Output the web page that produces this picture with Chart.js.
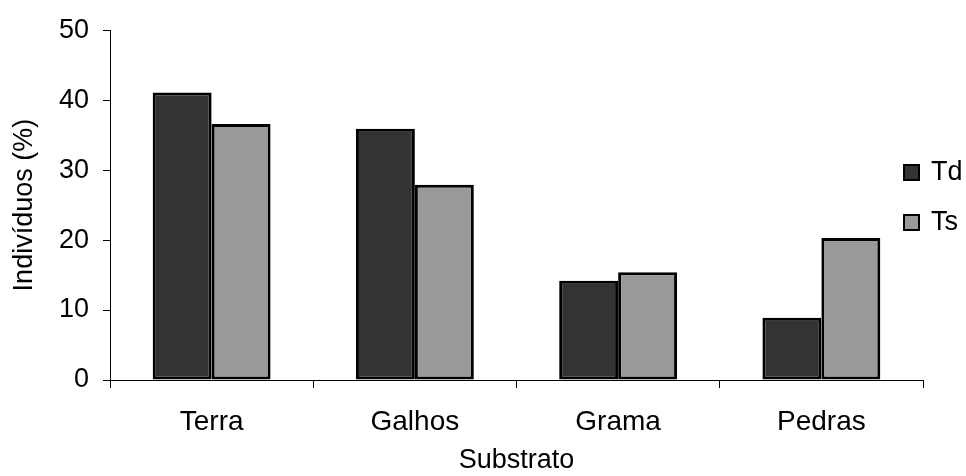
<!DOCTYPE html>
<html>
<head>
<meta charset="utf-8">
<script src="https://cdn.jsdelivr.net/npm/chart.js@4.4.1/dist/chart.umd.min.js"></script>
<style>
  html, body { margin: 0; padding: 0; background: #fff; }
  #wrap { width: 966px; height: 476px; }
</style>
</head>
<body>
<div id="wrap"><canvas id="substratoChart" width="966" height="476"></canvas></div>
<script>
const categories = ["Terra", "Galhos", "Grama", "Pedras"];
const tdValues = [41.1, 35.9, 14.2, 8.9];
const tsValues = [36.6, 27.9, 15.4, 20.3];
const yTicks = [0, 10, 20, 30, 40, 50];

const FONT = "'Liberation Sans', Arial, sans-serif";

// legend drawn by hand so it can sit where the original one sits
const sideLegend = {
  id: 'sideLegend',
  afterDraw(chart) {
    const ctx = chart.ctx;
    const rows = [172, 222];
    ctx.save();
    chart.data.datasets.forEach((ds, i) => {
      const y = rows[i];
      ctx.fillStyle = ds.backgroundColor;
      ctx.fillRect(904, y - 7, 15, 15);
      ctx.lineWidth = 2;
      ctx.strokeStyle = '#000';
      ctx.strokeRect(904, y - 7, 15, 15);
      ctx.fillStyle = '#000';
      ctx.font = "27px " + FONT;
      ctx.textBaseline = 'middle';
      ctx.textAlign = 'left';
      ctx.fillText(ds.label, 931, y + 1);
    });
    ctx.restore();
  }
};

new Chart(document.getElementById('substratoChart').getContext('2d'), {
  type: 'bar',
  data: {
    labels: categories,
    datasets: [
      { label: 'Td', data: tdValues, backgroundColor: '#333333', borderColor: '#000', borderWidth: 3, borderSkipped: false },
      { label: 'Ts', data: tsValues, backgroundColor: '#999999', borderColor: '#000', borderWidth: 3, borderSkipped: false }
    ]
  },
  options: {
    responsive: false,
    animation: false,
    devicePixelRatio: 1,
    categoryPercentage: 0.58,
    barPercentage: 1,
    layout: { padding: { top: 29, right: 43, left: 0, bottom: 0 } },
    plugins: {
      legend: { display: false },
      tooltip: { enabled: false }
    },
    scales: {
      x: {
        grid: { display: true, drawOnChartArea: false, offset: true, tickLength: 8, color: '#000' },
        border: { display: true, color: '#000', width: 1 },
        ticks: { color: '#000', font: { family: FONT, size: 28 }, padding: 17, maxRotation: 0 },
        title: { display: true, text: 'Substrato', color: '#000', font: { family: FONT, size: 27 }, padding: { top: 0, bottom: -1 } },
        afterFit(scale) { scale.height = 96; }
      },
      y: {
        min: 0,
        max: 50,
        afterBuildTicks(scale) { scale.ticks = yTicks.map(v => ({ value: v })); },
        grid: { display: true, drawOnChartArea: false, tickLength: 7, color: '#000' },
        border: { display: true, color: '#000', width: 1 },
        ticks: { color: '#000', font: { family: FONT, size: 27 }, padding: 14 },
        title: { display: true, text: 'Indivíduos (%)', color: '#000', font: { family: FONT, size: 27 }, padding: { top: 8, bottom: 0 } },
        afterFit(scale) { scale.width = 110; }
      }
    }
  },
  plugins: [sideLegend]
});
</script>
</body>
</html>
